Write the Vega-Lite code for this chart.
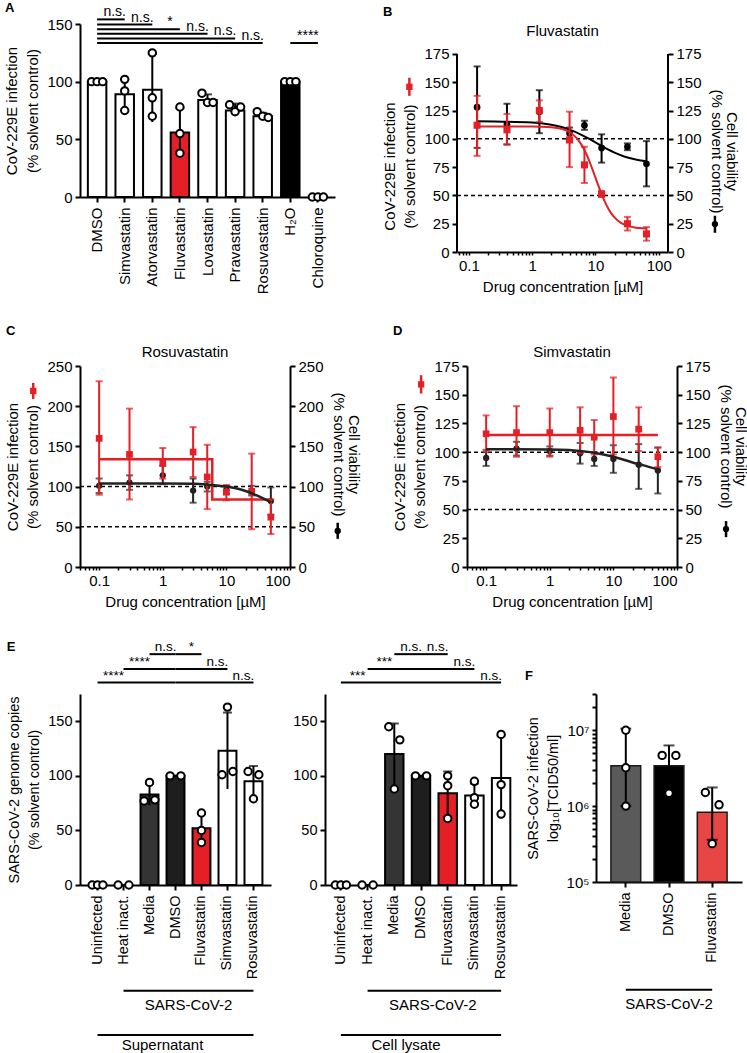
{
  "$schema": "https://vega.github.io/schema/vega-lite/v6.json",
  "padding": {"left": 4, "top": 2, "right": 0, "bottom": 0},
  "config": {
    "font": "Liberation Sans",
    "view": {"stroke": null},
    "axis": {"domainColor": "black", "domainWidth": 2, "tickColor": "black", "tickWidth": 2, "tickSize": 5, "labelColor": "black", "titleColor": "black", "labelFontSize": 15, "titleFontSize": 15, "titleFontWeight": "normal", "grid": false, "labelFont": "Liberation Sans", "titleFont": "Liberation Sans", "labelPadding": 3, "titlePadding": 6, "titleLineHeight": 20},
    "title": {"font": "Liberation Sans", "fontSize": 13, "fontWeight": "bold", "color": "black", "anchor": "start"}
  },
  "datasets": {
    "a_bars": [
      {"drug": "DMSO", "mean": 100, "lo": 100, "hi": 100},
      {"drug": "Simvastatin", "mean": 89, "lo": 75, "hi": 102},
      {"drug": "Atorvastatin", "mean": 93, "lo": 65, "hi": 124},
      {"drug": "Fluvastatin", "mean": 56, "lo": 37, "hi": 77},
      {"drug": "Lovastatin", "mean": 84, "lo": 79, "hi": 89},
      {"drug": "Pravastatin", "mean": 75, "lo": 70, "hi": 81},
      {"drug": "Rosuvastatin", "mean": 70, "lo": 68, "hi": 73},
      {"drug": "H₂O", "mean": 100, "lo": 100, "hi": 100},
      {"drug": "Chloroquine", "mean": 0, "lo": 0, "hi": 0}
    ],
    "a_pts": [
      {"drug": "DMSO", "rep": 1, "val": 100}, {"drug": "DMSO", "rep": 2, "val": 100}, {"drug": "DMSO", "rep": 3, "val": 100},
      {"drug": "Simvastatin", "rep": 2, "val": 102}, {"drug": "Simvastatin", "rep": 2, "val": 92}, {"drug": "Simvastatin", "rep": 2, "val": 75},
      {"drug": "Atorvastatin", "rep": 2, "val": 125}, {"drug": "Atorvastatin", "rep": 2, "val": 86}, {"drug": "Atorvastatin", "rep": 2, "val": 70},
      {"drug": "Fluvastatin", "rep": 2, "val": 78}, {"drug": "Fluvastatin", "rep": 2, "val": 55}, {"drug": "Fluvastatin", "rep": 2, "val": 38},
      {"drug": "Lovastatin", "rep": 1, "val": 90}, {"drug": "Lovastatin", "rep": 2, "val": 82}, {"drug": "Lovastatin", "rep": 3, "val": 82},
      {"drug": "Pravastatin", "rep": 1, "val": 80}, {"drug": "Pravastatin", "rep": 3, "val": 78}, {"drug": "Pravastatin", "rep": 2, "val": 74},
      {"drug": "Rosuvastatin", "rep": 1, "val": 74}, {"drug": "Rosuvastatin", "rep": 2, "val": 70}, {"drug": "Rosuvastatin", "rep": 3, "val": 69},
      {"drug": "H₂O", "rep": 1, "val": 100}, {"drug": "H₂O", "rep": 2, "val": 100}, {"drug": "H₂O", "rep": 3, "val": 100},
      {"drug": "Chloroquine", "rep": 1, "val": 0}, {"drug": "Chloroquine", "rep": 2, "val": 0}, {"drug": "Chloroquine", "rep": 3, "val": 0}
    ],
    "a_sig": [
      {"from": "DMSO", "to": "Simvastatin", "y": 154, "label": "n.s."},
      {"from": "DMSO", "to": "Atorvastatin", "y": 149.5, "label": "n.s."},
      {"from": "DMSO", "to": "Fluvastatin", "y": 145.5, "label": "*"},
      {"from": "DMSO", "to": "Lovastatin", "y": 141.5, "label": "n.s."},
      {"from": "DMSO", "to": "Pravastatin", "y": 137.5, "label": "n.s."},
      {"from": "DMSO", "to": "Rosuvastatin", "y": 133.5, "label": "n.s."},
      {"from": "H₂O", "to": "Chloroquine", "y": 133.5, "label": "****"}
    ],
    "refs_b": [{"ref": 100, "conc": 0.065, "conc2": 140}, {"ref": 50, "conc": 0.065, "conc2": 140}],
    "frame_b": [{"conc": 0.065, "y0": 0, "y1": 175}, {"conc": 140, "y0": 0, "y1": 175}],
    "refs_cd": [{"ref": 100, "conc": 0.05, "conc2": 100}, {"ref": 50, "conc": 0.05, "conc2": 100}],
    "b_title": [{"conc": 3.02, "y": 195, "label": "Fluvastatin"}],
    "c_title": [{"conc": 2.236, "y": 267, "label": "Rosuvastatin"}],
    "d_title": [{"conc": 2.236, "y": 187, "label": "Simvastatin"}],
    "sym_b_red": [{"conc": 0.0115, "y": 146, "lo": 138, "hi": 154}],
    "sym_b_blk": [{"conc": 772, "y": 24.7, "lo": 17, "hi": 32}],
    "sym_c_red": [{"conc": 0.0092, "y": 219, "lo": 209, "hi": 229}],
    "sym_c_blk": [{"conc": 562, "y": 44.8, "lo": 35, "hi": 55}],
    "sym_d_red": [{"conc": 0.0095, "y": 159, "lo": 151, "hi": 167}],
    "sym_d_blk": [{"conc": 590, "y": 33, "lo": 26, "hi": 40}],
    "b_inf": [
      {"conc": 0.135, "mean": 112, "lo": 85, "hi": 138},
      {"conc": 0.4, "mean": 108, "lo": 95, "hi": 122},
      {"conc": 1.3, "mean": 125, "lo": 115, "hi": 134},
      {"conc": 3.9, "mean": 99, "lo": 75, "hi": 124},
      {"conc": 6.7, "mean": 77, "lo": 61, "hi": 93},
      {"conc": 12.5, "mean": 51, "lo": 49, "hi": 54},
      {"conc": 32, "mean": 25, "lo": 19, "hi": 31},
      {"conc": 64, "mean": 16, "lo": 10, "hi": 22}
    ],
    "b_via": [
      {"conc": 0.135, "mean": 128, "lo": 92, "hi": 164},
      {"conc": 0.4, "mean": 113, "lo": 95, "hi": 131},
      {"conc": 1.3, "mean": 124, "lo": 105, "hi": 143},
      {"conc": 3.9, "mean": 105, "lo": 101, "hi": 110},
      {"conc": 6.7, "mean": 112, "lo": 108, "hi": 116},
      {"conc": 12.5, "mean": 92, "lo": 79, "hi": 104},
      {"conc": 32, "mean": 93, "lo": 90, "hi": 96},
      {"conc": 64, "mean": 78, "lo": 58, "hi": 98}
    ],
    "b_fit_inf": [
      {"conc": 0.135, "val": 111}, {"conc": 1, "val": 110.9}, {"conc": 2, "val": 110.3}, {"conc": 3, "val": 108.6},
      {"conc": 4, "val": 105.6}, {"conc": 5, "val": 100.9}, {"conc": 6, "val": 94.9}, {"conc": 7, "val": 87.9},
      {"conc": 8, "val": 80.4}, {"conc": 9, "val": 72.8}, {"conc": 10, "val": 65.7}, {"conc": 11, "val": 59.3},
      {"conc": 12.5, "val": 51.1}, {"conc": 14, "val": 44.7}, {"conc": 16, "val": 38.3}, {"conc": 18, "val": 33.7},
      {"conc": 20, "val": 30.6}, {"conc": 25, "val": 25.9}, {"conc": 30, "val": 23.7}, {"conc": 40, "val": 21.9}, {"conc": 64, "val": 20.8}
    ],
    "b_fit_via": [
      {"conc": 0.135, "val": 115.5}, {"conc": 1, "val": 114.4}, {"conc": 2, "val": 112.4}, {"conc": 3, "val": 110.2},
      {"conc": 4, "val": 107.9}, {"conc": 6, "val": 103.6}, {"conc": 8, "val": 99.9}, {"conc": 10, "val": 96.8},
      {"conc": 12.5, "val": 93.6}, {"conc": 16, "val": 90.4}, {"conc": 20, "val": 87.8}, {"conc": 30, "val": 84},
      {"conc": 45, "val": 81.6}, {"conc": 64, "val": 80.2}
    ],
    "c_inf": [
      {"conc": 0.1, "mean": 160, "lo": 90, "hi": 231},
      {"conc": 0.3, "mean": 140, "lo": 84, "hi": 197},
      {"conc": 1, "mean": 129, "lo": 110, "hi": 148},
      {"conc": 3, "mean": 143, "lo": 112, "hi": 174},
      {"conc": 5, "mean": 112, "lo": 72, "hi": 152},
      {"conc": 10, "mean": 93, "lo": 83, "hi": 102},
      {"conc": 25, "mean": 94, "lo": 47, "hi": 141},
      {"conc": 50, "mean": 62, "lo": 41, "hi": 84}
    ],
    "c_via": [
      {"conc": 0.1, "mean": 101, "lo": 92, "hi": 110},
      {"conc": 0.3, "mean": 105, "lo": 96, "hi": 114},
      {"conc": 1, "mean": 114, "lo": 103, "hi": 126},
      {"conc": 3, "mean": 95, "lo": 80, "hi": 110},
      {"conc": 5, "mean": 100, "lo": 94, "hi": 106},
      {"conc": 10, "mean": 96, "lo": 91, "hi": 101},
      {"conc": 25, "mean": 95, "lo": 89, "hi": 101},
      {"conc": 50, "mean": 82, "lo": 65, "hi": 99}
    ],
    "c_fit_inf": [
      {"i": 1, "conc": 0.1, "val": 134}, {"i": 2, "conc": 6, "val": 134}, {"i": 3, "conc": 6, "val": 84}, {"i": 4, "conc": 50, "val": 84}
    ],
    "c_fit_via": [
      {"conc": 0.1, "val": 104}, {"conc": 1, "val": 104}, {"conc": 3, "val": 103.5}, {"conc": 5, "val": 102.5},
      {"conc": 10, "val": 100}, {"conc": 20, "val": 94.5}, {"conc": 30, "val": 89}, {"conc": 40, "val": 84.5}, {"conc": 50, "val": 80.5}
    ],
    "d_inf": [
      {"conc": 0.1, "mean": 116, "lo": 100, "hi": 132},
      {"conc": 0.3, "mean": 117, "lo": 96, "hi": 140},
      {"conc": 1, "mean": 117, "lo": 96, "hi": 138},
      {"conc": 3, "mean": 119, "lo": 99, "hi": 139},
      {"conc": 5, "mean": 113, "lo": 98, "hi": 128},
      {"conc": 10, "mean": 131, "lo": 98, "hi": 165},
      {"conc": 25, "mean": 120, "lo": 101, "hi": 139},
      {"conc": 50, "mean": 96, "lo": 87, "hi": 104}
    ],
    "d_via": [
      {"conc": 0.1, "mean": 95, "lo": 88, "hi": 102},
      {"conc": 0.3, "mean": 103, "lo": 97, "hi": 109},
      {"conc": 1, "mean": 101, "lo": 97, "hi": 105},
      {"conc": 3, "mean": 99, "lo": 90, "hi": 108},
      {"conc": 5, "mean": 94, "lo": 88, "hi": 100},
      {"conc": 10, "mean": 94, "lo": 82, "hi": 106},
      {"conc": 25, "mean": 89, "lo": 68, "hi": 107},
      {"conc": 50, "mean": 84, "lo": 64, "hi": 104}
    ],
    "d_fit_inf": [{"conc": 0.1, "val": 115}, {"conc": 50, "val": 115}],
    "d_fit_via": [
      {"conc": 0.1, "val": 102.5}, {"conc": 1, "val": 102.3}, {"conc": 2, "val": 101.8}, {"conc": 3, "val": 101},
      {"conc": 5, "val": 99.5}, {"conc": 10, "val": 96}, {"conc": 20, "val": 91}, {"conc": 30, "val": 88.5}, {"conc": 50, "val": 85}
    ],
    "e1_bars": [
      {"cat": "Uninfected", "mean": 0, "lo": 0, "hi": 0},
      {"cat": "Heat inact.", "mean": 0, "lo": 0, "hi": 0},
      {"cat": "Media", "mean": 83, "lo": 73, "hi": 93},
      {"cat": "DMSO", "mean": 100, "lo": 100, "hi": 100},
      {"cat": "Fluvastatin", "mean": 52, "lo": 39, "hi": 65},
      {"cat": "Simvastatin", "mean": 123, "lo": 88, "hi": 158},
      {"cat": "Rosuvastatin", "mean": 95, "lo": 81, "hi": 109}
    ],
    "e1_pts": [
      {"cat": "Uninfected", "rep": 1, "val": 0}, {"cat": "Uninfected", "rep": 2, "val": 0}, {"cat": "Uninfected", "rep": 3, "val": 0},
      {"cat": "Heat inact.", "rep": 1, "val": 0}, {"cat": "Heat inact.", "rep": 3, "val": 0},
      {"cat": "Media", "rep": 2, "val": 94}, {"cat": "Media", "rep": 1, "val": 77}, {"cat": "Media", "rep": 3, "val": 78},
      {"cat": "DMSO", "rep": 1, "val": 100}, {"cat": "DMSO", "rep": 3, "val": 100},
      {"cat": "Fluvastatin", "rep": 2, "val": 66}, {"cat": "Fluvastatin", "rep": 2, "val": 50}, {"cat": "Fluvastatin", "rep": 2, "val": 39},
      {"cat": "Simvastatin", "rep": 2, "val": 163}, {"cat": "Simvastatin", "rep": 1, "val": 101}, {"cat": "Simvastatin", "rep": 3, "val": 104},
      {"cat": "Rosuvastatin", "rep": 1, "val": 104}, {"cat": "Rosuvastatin", "rep": 3, "val": 101}, {"cat": "Rosuvastatin", "rep": 2, "val": 79}
    ],
    "e1_sig": [
      {"from": "Uninfected", "to": "DMSO", "y": 185.5, "label": "****", "at": "Heat inact."},
      {"from": "Heat inact.", "to": "DMSO", "y": 198, "label": "****", "at": "Media"},
      {"from": "Media", "to": "DMSO", "y": 211.5, "label": "n.s.", "at": "DMSO"},
      {"from": "DMSO", "to": "Fluvastatin", "y": 211.5, "label": "*", "at": "Fluvastatin"},
      {"from": "DMSO", "to": "Simvastatin", "y": 198, "label": "n.s.", "at": "Simvastatin"},
      {"from": "DMSO", "to": "Rosuvastatin", "y": 185.5, "label": "n.s.", "at": "Rosuvastatin"}
    ],
    "e1_ann": [
      {"from": "Heat inact.", "to": "Rosuvastatin", "y": -97, "label": "SARS-CoV-2", "at": "Fluvastatin", "ty": -110},
      {"from": "Uninfected", "to": "Rosuvastatin", "y": -137.5, "label": "Supernatant", "at": "DMSO", "ty": -147}
    ],
    "e2_bars": [
      {"cat": "Uninfected", "mean": 0, "lo": 0, "hi": 0},
      {"cat": "Heat inact.", "mean": 0, "lo": 0, "hi": 0},
      {"cat": "Media", "mean": 120, "lo": 92, "hi": 148},
      {"cat": "DMSO", "mean": 100, "lo": 100, "hi": 100},
      {"cat": "Fluvastatin", "mean": 84, "lo": 64, "hi": 104},
      {"cat": "Simvastatin", "mean": 82, "lo": 72, "hi": 93},
      {"cat": "Rosuvastatin", "mean": 98, "lo": 61, "hi": 137}
    ],
    "e2_pts": [
      {"cat": "Uninfected", "rep": 1, "val": 0}, {"cat": "Uninfected", "rep": 2, "val": 0}, {"cat": "Uninfected", "rep": 3, "val": 0},
      {"cat": "Heat inact.", "rep": 1, "val": 0}, {"cat": "Heat inact.", "rep": 3, "val": 0},
      {"cat": "Media", "rep": 1, "val": 145}, {"cat": "Media", "rep": 3, "val": 133}, {"cat": "Media", "rep": 2, "val": 88},
      {"cat": "DMSO", "rep": 1, "val": 100}, {"cat": "DMSO", "rep": 3, "val": 100},
      {"cat": "Fluvastatin", "rep": 2, "val": 100}, {"cat": "Fluvastatin", "rep": 2, "val": 91}, {"cat": "Fluvastatin", "rep": 2, "val": 61},
      {"cat": "Simvastatin", "rep": 2, "val": 95}, {"cat": "Simvastatin", "rep": 2, "val": 80}, {"cat": "Simvastatin", "rep": 2, "val": 74},
      {"cat": "Rosuvastatin", "rep": 2, "val": 138}, {"cat": "Rosuvastatin", "rep": 2, "val": 92}, {"cat": "Rosuvastatin", "rep": 2, "val": 65}
    ],
    "e2_sig": [
      {"from": "Uninfected", "to": "DMSO", "y": 185.5, "label": "***", "at": "Heat inact."},
      {"from": "Heat inact.", "to": "DMSO", "y": 198, "label": "***", "at": "Media"},
      {"from": "Media", "to": "DMSO", "y": 211.5, "label": "n.s.", "at": "DMSO"},
      {"from": "DMSO", "to": "Fluvastatin", "y": 211.5, "label": "n.s.", "at": "Fluvastatin"},
      {"from": "DMSO", "to": "Simvastatin", "y": 198, "label": "n.s.", "at": "Simvastatin"},
      {"from": "DMSO", "to": "Rosuvastatin", "y": 185.5, "label": "n.s.", "at": "Rosuvastatin"}
    ],
    "e2_ann": [
      {"from": "Heat inact.", "to": "Rosuvastatin", "y": -97, "label": "SARS-CoV-2", "at": "Fluvastatin", "ty": -110},
      {"from": "Uninfected", "to": "Rosuvastatin", "y": -137.5, "label": "Cell lysate", "at": "DMSO", "ty": -147}
    ],
    "f_bars": [
      {"cat": "Media", "mean": 3400000, "lo": 1000000, "hi": 10500000},
      {"cat": "DMSO", "mean": 3400000, "lo": 1830000, "hi": 6300000},
      {"cat": "Fluvastatin", "mean": 830000, "lo": 360000, "hi": 1760000}
    ],
    "f_pts": [
      {"cat": "Media", "rep": 2, "val": 10000000}, {"cat": "Media", "rep": 2, "val": 3200000}, {"cat": "Media", "rep": 2, "val": 1000000},
      {"cat": "DMSO", "rep": 1, "val": 4660000}, {"cat": "DMSO", "rep": 3, "val": 4660000}, {"cat": "DMSO", "rep": 2, "val": 1480000},
      {"cat": "Fluvastatin", "rep": 1, "val": 1510000}, {"cat": "Fluvastatin", "rep": 3, "val": 1040000}, {"cat": "Fluvastatin", "rep": 2, "val": 320000}
    ],
    "f_ann": [{"from": "Media", "to": "Fluvastatin", "y": 3800, "label": "SARS-CoV-2", "at": "DMSO", "ty": 2500}]
  },
  "spacing": 31,
  "resolve": {"scale": {"fill": "independent"}},
  "vconcat": [
    {
      "spacing": 47,
      "resolve": {"scale": {"fill": "independent"}},
      "hconcat": [
        {
          "title": {"text": "A", "offset": -10},
          "width": 255, "height": 173,
          "layer": [
            {
              "data": {"name": "a_bars"},
              "mark": {"type": "bar", "stroke": "black", "strokeWidth": 2},
              "encoding": {
                "x": {"field": "drug", "type": "nominal", "sort": null, "scale": {"domain": ["DMSO", "Simvastatin", "Atorvastatin", "Fluvastatin", "Lovastatin", "Pravastatin", "Rosuvastatin", "H₂O", "Chloroquine"], "paddingInner": 0.33, "paddingOuter": 0.285}, "axis": {"title": null, "labelAngle": 270, "labelPadding": 5}},
                "y": {"field": "mean", "type": "quantitative", "scale": {"domain": [0, 150], "nice": false}, "axis": {"values": [0, 25, 50, 75, 100, 125, 150], "title": ["CoV-229E infection", "(% solvent control)"], "titleLineHeight": 21}},
                "fill": {"field": "drug", "type": "nominal", "scale": {"domain": ["DMSO", "Simvastatin", "Atorvastatin", "Fluvastatin", "Lovastatin", "Pravastatin", "Rosuvastatin", "H₂O", "Chloroquine"], "range": ["white", "white", "white", "#e41f26", "white", "white", "white", "black", "white"]}, "legend": null}
              }
            },
            {"data": {"name": "a_bars"}, "mark": {"type": "rule", "strokeWidth": 2, "color": "black"}, "encoding": {"x": {"field": "drug", "type": "nominal"}, "y": {"field": "lo", "type": "quantitative"}, "y2": {"field": "hi"}}},
            {"data": {"name": "a_bars"}, "mark": {"type": "tick", "orient": "horizontal", "size": 9, "thickness": 2, "color": "black"}, "encoding": {"x": {"field": "drug", "type": "nominal"}, "y": {"field": "hi", "type": "quantitative"}}},
            {"data": {"name": "a_pts"}, "transform": [{"filter": "datum.rep == 1"}], "mark": {"type": "circle", "size": 55, "fill": "white", "stroke": "black", "strokeWidth": 2, "opacity": 1}, "encoding": {"x": {"field": "drug", "type": "nominal", "bandPosition": 0.2}, "y": {"field": "val", "type": "quantitative"}}},
            {"data": {"name": "a_pts"}, "transform": [{"filter": "datum.rep == 2"}], "mark": {"type": "circle", "size": 55, "fill": "white", "stroke": "black", "strokeWidth": 2, "opacity": 1}, "encoding": {"x": {"field": "drug", "type": "nominal", "bandPosition": 0.5}, "y": {"field": "val", "type": "quantitative"}}},
            {"data": {"name": "a_pts"}, "transform": [{"filter": "datum.rep == 3"}], "mark": {"type": "circle", "size": 55, "fill": "white", "stroke": "black", "strokeWidth": 2, "opacity": 1}, "encoding": {"x": {"field": "drug", "type": "nominal", "bandPosition": 0.8}, "y": {"field": "val", "type": "quantitative"}}},
            {"data": {"name": "a_sig"}, "mark": {"type": "rule", "strokeWidth": 2, "color": "black"}, "encoding": {"x": {"field": "from", "type": "nominal"}, "x2": {"field": "to"}, "y": {"field": "y", "type": "quantitative"}}},
            {"data": {"name": "a_sig"}, "mark": {"type": "text", "fontSize": 14, "dx": -10, "dy": -3, "baseline": "alphabetic", "align": "center"}, "encoding": {"x": {"field": "to", "type": "nominal"}, "y": {"field": "y", "type": "quantitative"}, "text": {"field": "label"}}}
          ]
        },
        {
          "title": {"text": "B", "offset": 5},
          "width": 211, "height": 228,
          "layer": [
            {"data": {"name": "refs_b"}, "mark": {"type": "rule", "strokeDash": [4, 3], "strokeWidth": 1.5, "color": "black"}, "encoding": {"x": {"field": "conc", "type": "quantitative", "scale": {"type": "log", "domain": [0.065, 140], "nice": false}, "axis": {"title": "Drug concentration [µM]", "values": [0.07, 0.08, 0.09, 0.1, 0.2, 0.3, 0.4, 0.5, 0.6, 0.7, 0.8, 0.9, 1, 2, 3, 4, 5, 6, 7, 8, 9, 10, 20, 30, 40, 50, 60, 70, 80, 90, 100], "labelExpr": "indexof([0.1, 1, 10, 100], datum.value) >= 0 ? datum.label : ''", "tickSize": 3, "tickWidth": 1.5}}, "x2": {"field": "conc2"}, "y": {"field": "ref", "type": "quantitative", "scale": {"domain": [0, 201.5], "nice": false}, "axis": {"orient": "left", "values": [0, 25, 50, 75, 100, 125, 150, 175], "domain": false, "titleY": 142, "title": ["CoV-229E infection", "(% solvent control)"]}}}},
            {"data": {"name": "frame_b"}, "mark": {"type": "rule", "strokeWidth": 2, "color": "black"}, "encoding": {"x": {"field": "conc", "type": "quantitative"}, "y": {"field": "y0", "type": "quantitative", "scale": {"domain": [0, 201.5], "nice": false}, "axis": null}, "y2": {"field": "y1"}}},
            {"data": {"name": "b_via"}, "mark": {"type": "rule", "strokeWidth": 2, "color": "black"}, "encoding": {"x": {"field": "conc", "type": "quantitative"}, "y": {"field": "lo", "type": "quantitative", "scale": {"domain": [0, 201.5], "nice": false}, "axis": null}, "y2": {"field": "hi"}}},
            {"data": {"name": "b_via"}, "mark": {"type": "tick", "orient": "horizontal", "size": 7, "thickness": 2, "color": "black"}, "encoding": {"x": {"field": "conc", "type": "quantitative"}, "y": {"field": "hi", "type": "quantitative", "scale": {"domain": [0, 201.5], "nice": false}, "axis": null}}},
            {"data": {"name": "b_via"}, "mark": {"type": "tick", "orient": "horizontal", "size": 7, "thickness": 2, "color": "black"}, "encoding": {"x": {"field": "conc", "type": "quantitative"}, "y": {"field": "lo", "type": "quantitative", "scale": {"domain": [0, 201.5], "nice": false}, "axis": null}}},
            {"data": {"name": "b_fit_via"}, "mark": {"type": "line", "interpolate": "monotone", "strokeWidth": 2, "color": "black"}, "encoding": {"x": {"field": "conc", "type": "quantitative"}, "y": {"field": "val", "type": "quantitative", "scale": {"domain": [0, 201.5], "nice": false}, "axis": null}}},
            {"data": {"name": "b_via"}, "mark": {"type": "circle", "size": 45, "color": "black", "opacity": 1}, "encoding": {"x": {"field": "conc", "type": "quantitative"}, "y": {"field": "mean", "type": "quantitative", "scale": {"domain": [0, 201.5], "nice": false}, "axis": {"orient": "right", "values": [0, 25, 50, 75, 100, 125, 150, 175], "domain": false, "titleY": 127, "titlePadding": 7, "titleLineHeight": 15.5, "title": ["Cell viability", "(% solvent control)"]}}}},
            {"data": {"name": "b_inf"}, "mark": {"type": "rule", "strokeWidth": 2, "color": "#e41f26"}, "encoding": {"x": {"field": "conc", "type": "quantitative"}, "y": {"field": "lo", "type": "quantitative", "scale": {"domain": [0, 201.5], "nice": false}, "axis": null}, "y2": {"field": "hi"}}},
            {"data": {"name": "b_inf"}, "mark": {"type": "tick", "orient": "horizontal", "size": 7, "thickness": 2, "color": "#e41f26"}, "encoding": {"x": {"field": "conc", "type": "quantitative"}, "y": {"field": "hi", "type": "quantitative", "scale": {"domain": [0, 201.5], "nice": false}, "axis": null}}},
            {"data": {"name": "b_inf"}, "mark": {"type": "tick", "orient": "horizontal", "size": 7, "thickness": 2, "color": "#e41f26"}, "encoding": {"x": {"field": "conc", "type": "quantitative"}, "y": {"field": "lo", "type": "quantitative", "scale": {"domain": [0, 201.5], "nice": false}, "axis": null}}},
            {"data": {"name": "b_fit_inf"}, "mark": {"type": "line", "interpolate": "monotone", "strokeWidth": 2, "color": "#e41f26"}, "encoding": {"x": {"field": "conc", "type": "quantitative"}, "y": {"field": "val", "type": "quantitative", "scale": {"domain": [0, 201.5], "nice": false}, "axis": null}}},
            {"data": {"name": "b_inf"}, "mark": {"type": "square", "size": 50, "color": "#e41f26", "opacity": 1}, "encoding": {"x": {"field": "conc", "type": "quantitative"}, "y": {"field": "mean", "type": "quantitative", "scale": {"domain": [0, 201.5], "nice": false}, "axis": null}}},
            {"data": {"name": "b_title"}, "mark": {"type": "text", "fontSize": 15, "baseline": "middle"}, "encoding": {"x": {"field": "conc", "type": "quantitative"}, "y": {"field": "y", "type": "quantitative", "scale": {"domain": [0, 201.5], "nice": false}, "axis": null}, "text": {"field": "label"}}},
            {"data": {"name": "sym_b_red"}, "mark": {"type": "rule", "strokeWidth": 2.5, "color": "#e41f26"}, "encoding": {"x": {"field": "conc", "type": "quantitative"}, "y": {"field": "lo", "type": "quantitative", "scale": {"domain": [0, 201.5], "nice": false}, "axis": null}, "y2": {"field": "hi"}}},
            {"data": {"name": "sym_b_red"}, "mark": {"type": "square", "size": 40, "color": "#e41f26", "opacity": 1}, "encoding": {"x": {"field": "conc", "type": "quantitative"}, "y": {"field": "y", "type": "quantitative", "scale": {"domain": [0, 201.5], "nice": false}, "axis": null}}},
            {"data": {"name": "sym_b_blk"}, "mark": {"type": "rule", "strokeWidth": 2.5, "color": "black"}, "encoding": {"x": {"field": "conc", "type": "quantitative"}, "y": {"field": "lo", "type": "quantitative", "scale": {"domain": [0, 201.5], "nice": false}, "axis": null}, "y2": {"field": "hi"}}},
            {"data": {"name": "sym_b_blk"}, "mark": {"type": "circle", "size": 40, "color": "black", "opacity": 1}, "encoding": {"x": {"field": "conc", "type": "quantitative"}, "y": {"field": "y", "type": "quantitative", "scale": {"domain": [0, 201.5], "nice": false}, "axis": null}}}
          ],
          "resolve": {"scale": {"y": "independent"}}
        }
      ]
    },
    {
      "spacing": 31,
      "resolve": {"scale": {"fill": "independent"}},
      "hconcat": [
        {
          "title": {"text": "C", "offset": 7},
          "width": 210, "height": 201,
          "layer": [
            {"data": {"name": "refs_cd"}, "mark": {"type": "rule", "strokeDash": [4, 3], "strokeWidth": 1.5, "color": "black"}, "encoding": {"x": {"field": "conc", "type": "quantitative", "scale": {"type": "log", "domain": [0.05, 100], "nice": false}, "axis": {"title": "Drug concentration [µM]", "values": [0.05, 0.06, 0.07, 0.08, 0.09, 0.1, 0.2, 0.3, 0.4, 0.5, 0.6, 0.7, 0.8, 0.9, 1, 2, 3, 4, 5, 6, 7, 8, 9, 10, 20, 30, 40, 50, 60, 70, 80, 90, 100], "labelExpr": "indexof([0.1, 1, 10, 100], datum.value) >= 0 ? datum.label : ''", "tickSize": 3, "tickWidth": 1.5}}, "x2": {"field": "conc2"}, "y": {"field": "ref", "type": "quantitative", "scale": {"domain": [0, 250], "nice": false}, "axis": {"orient": "left", "values": [0, 50, 100, 150, 200, 250], "title": ["CoV-229E infection", "(% solvent control)"]}}}},
            {"data": {"name": "c_via"}, "mark": {"type": "rule", "strokeWidth": 2, "color": "#222222"}, "encoding": {"x": {"field": "conc", "type": "quantitative"}, "y": {"field": "lo", "type": "quantitative", "scale": {"domain": [0, 250], "nice": false}, "axis": null}, "y2": {"field": "hi"}}},
            {"data": {"name": "c_via"}, "mark": {"type": "tick", "orient": "horizontal", "size": 7, "thickness": 2, "color": "#222222"}, "encoding": {"x": {"field": "conc", "type": "quantitative"}, "y": {"field": "hi", "type": "quantitative", "scale": {"domain": [0, 250], "nice": false}, "axis": null}}},
            {"data": {"name": "c_via"}, "mark": {"type": "tick", "orient": "horizontal", "size": 7, "thickness": 2, "color": "#222222"}, "encoding": {"x": {"field": "conc", "type": "quantitative"}, "y": {"field": "lo", "type": "quantitative", "scale": {"domain": [0, 250], "nice": false}, "axis": null}}},
            {"data": {"name": "c_via"}, "mark": {"type": "circle", "size": 40, "color": "#222222", "opacity": 1}, "encoding": {"x": {"field": "conc", "type": "quantitative"}, "y": {"field": "mean", "type": "quantitative", "scale": {"domain": [0, 250], "nice": false}, "axis": {"orient": "right", "values": [0, 50, 100, 150, 200, 250], "titleY": 88, "titlePadding": 7, "titleLineHeight": 15.5, "title": ["Cell viability", "(% solvent control)"]}}}},
            {"data": {"name": "c_inf"}, "mark": {"type": "rule", "strokeWidth": 2, "color": "#e41f26"}, "encoding": {"x": {"field": "conc", "type": "quantitative"}, "y": {"field": "lo", "type": "quantitative", "scale": {"domain": [0, 250], "nice": false}, "axis": null}, "y2": {"field": "hi"}}},
            {"data": {"name": "c_inf"}, "mark": {"type": "tick", "orient": "horizontal", "size": 7, "thickness": 2, "color": "#e41f26"}, "encoding": {"x": {"field": "conc", "type": "quantitative"}, "y": {"field": "hi", "type": "quantitative", "scale": {"domain": [0, 250], "nice": false}, "axis": null}}},
            {"data": {"name": "c_inf"}, "mark": {"type": "tick", "orient": "horizontal", "size": 7, "thickness": 2, "color": "#e41f26"}, "encoding": {"x": {"field": "conc", "type": "quantitative"}, "y": {"field": "lo", "type": "quantitative", "scale": {"domain": [0, 250], "nice": false}, "axis": null}}},
            {"data": {"name": "c_fit_inf"}, "mark": {"type": "line", "strokeWidth": 2.5, "color": "#e41f26"}, "encoding": {"x": {"field": "conc", "type": "quantitative"}, "y": {"field": "val", "type": "quantitative", "scale": {"domain": [0, 250], "nice": false}, "axis": null}, "order": {"field": "i"}}},
            {"data": {"name": "c_inf"}, "mark": {"type": "square", "size": 45, "color": "#e41f26", "opacity": 1}, "encoding": {"x": {"field": "conc", "type": "quantitative"}, "y": {"field": "mean", "type": "quantitative", "scale": {"domain": [0, 250], "nice": false}, "axis": null}}},
            {"data": {"name": "c_fit_via"}, "mark": {"type": "line", "interpolate": "monotone", "strokeWidth": 2.5, "color": "#222222"}, "encoding": {"x": {"field": "conc", "type": "quantitative"}, "y": {"field": "val", "type": "quantitative", "scale": {"domain": [0, 250], "nice": false}, "axis": null}}},
            {"data": {"name": "c_title"}, "mark": {"type": "text", "fontSize": 15, "baseline": "middle"}, "encoding": {"x": {"field": "conc", "type": "quantitative"}, "y": {"field": "y", "type": "quantitative", "scale": {"domain": [0, 250], "nice": false}, "axis": null}, "text": {"field": "label"}}},
            {"data": {"name": "sym_c_red"}, "mark": {"type": "rule", "strokeWidth": 2.5, "color": "#e41f26"}, "encoding": {"x": {"field": "conc", "type": "quantitative"}, "y": {"field": "lo", "type": "quantitative", "scale": {"domain": [0, 250], "nice": false}, "axis": null}, "y2": {"field": "hi"}}},
            {"data": {"name": "sym_c_red"}, "mark": {"type": "square", "size": 40, "color": "#e41f26", "opacity": 1}, "encoding": {"x": {"field": "conc", "type": "quantitative"}, "y": {"field": "y", "type": "quantitative", "scale": {"domain": [0, 250], "nice": false}, "axis": null}}},
            {"data": {"name": "sym_c_blk"}, "mark": {"type": "rule", "strokeWidth": 2.5, "color": "black"}, "encoding": {"x": {"field": "conc", "type": "quantitative"}, "y": {"field": "lo", "type": "quantitative", "scale": {"domain": [0, 250], "nice": false}, "axis": null}, "y2": {"field": "hi"}}},
            {"data": {"name": "sym_c_blk"}, "mark": {"type": "circle", "size": 40, "color": "black", "opacity": 1}, "encoding": {"x": {"field": "conc", "type": "quantitative"}, "y": {"field": "y", "type": "quantitative", "scale": {"domain": [0, 250], "nice": false}, "axis": null}}}
          ],
          "resolve": {"scale": {"y": "independent"}}
        },
        {
          "title": {"text": "D", "offset": 7},
          "width": 210, "height": 201,
          "layer": [
            {"data": {"name": "refs_cd"}, "mark": {"type": "rule", "strokeDash": [4, 3], "strokeWidth": 1.5, "color": "black"}, "encoding": {"x": {"field": "conc", "type": "quantitative", "scale": {"type": "log", "domain": [0.05, 100], "nice": false}, "axis": {"title": "Drug concentration [µM]", "values": [0.05, 0.06, 0.07, 0.08, 0.09, 0.1, 0.2, 0.3, 0.4, 0.5, 0.6, 0.7, 0.8, 0.9, 1, 2, 3, 4, 5, 6, 7, 8, 9, 10, 20, 30, 40, 50, 60, 70, 80, 90, 100], "labelExpr": "indexof([0.1, 1, 10, 100], datum.value) >= 0 ? datum.label : ''", "tickSize": 3, "tickWidth": 1.5}}, "x2": {"field": "conc2"}, "y": {"field": "ref", "type": "quantitative", "scale": {"domain": [0, 175], "nice": false}, "axis": {"orient": "left", "values": [0, 25, 50, 75, 100, 125, 150, 175], "title": ["CoV-229E infection", "(% solvent control)"]}}}},
            {"data": {"name": "d_via"}, "mark": {"type": "rule", "strokeWidth": 2, "color": "#222222"}, "encoding": {"x": {"field": "conc", "type": "quantitative"}, "y": {"field": "lo", "type": "quantitative", "scale": {"domain": [0, 175], "nice": false}, "axis": null}, "y2": {"field": "hi"}}},
            {"data": {"name": "d_via"}, "mark": {"type": "tick", "orient": "horizontal", "size": 7, "thickness": 2, "color": "#222222"}, "encoding": {"x": {"field": "conc", "type": "quantitative"}, "y": {"field": "hi", "type": "quantitative", "scale": {"domain": [0, 175], "nice": false}, "axis": null}}},
            {"data": {"name": "d_via"}, "mark": {"type": "tick", "orient": "horizontal", "size": 7, "thickness": 2, "color": "#222222"}, "encoding": {"x": {"field": "conc", "type": "quantitative"}, "y": {"field": "lo", "type": "quantitative", "scale": {"domain": [0, 175], "nice": false}, "axis": null}}},
            {"data": {"name": "d_via"}, "mark": {"type": "circle", "size": 40, "color": "#222222", "opacity": 1}, "encoding": {"x": {"field": "conc", "type": "quantitative"}, "y": {"field": "mean", "type": "quantitative", "scale": {"domain": [0, 175], "nice": false}, "axis": {"orient": "right", "values": [0, 25, 50, 75, 100, 125, 150, 175], "titleY": 80, "titlePadding": 7, "titleLineHeight": 15.5, "title": ["Cell viability", "(% solvent control)"]}}}},
            {"data": {"name": "d_inf"}, "mark": {"type": "rule", "strokeWidth": 2, "color": "#e41f26"}, "encoding": {"x": {"field": "conc", "type": "quantitative"}, "y": {"field": "lo", "type": "quantitative", "scale": {"domain": [0, 175], "nice": false}, "axis": null}, "y2": {"field": "hi"}}},
            {"data": {"name": "d_inf"}, "mark": {"type": "tick", "orient": "horizontal", "size": 7, "thickness": 2, "color": "#e41f26"}, "encoding": {"x": {"field": "conc", "type": "quantitative"}, "y": {"field": "hi", "type": "quantitative", "scale": {"domain": [0, 175], "nice": false}, "axis": null}}},
            {"data": {"name": "d_inf"}, "mark": {"type": "tick", "orient": "horizontal", "size": 7, "thickness": 2, "color": "#e41f26"}, "encoding": {"x": {"field": "conc", "type": "quantitative"}, "y": {"field": "lo", "type": "quantitative", "scale": {"domain": [0, 175], "nice": false}, "axis": null}}},
            {"data": {"name": "d_fit_inf"}, "mark": {"type": "line", "strokeWidth": 2.5, "color": "#e41f26"}, "encoding": {"x": {"field": "conc", "type": "quantitative"}, "y": {"field": "val", "type": "quantitative", "scale": {"domain": [0, 175], "nice": false}, "axis": null}}},
            {"data": {"name": "d_inf"}, "mark": {"type": "square", "size": 45, "color": "#e41f26", "opacity": 1}, "encoding": {"x": {"field": "conc", "type": "quantitative"}, "y": {"field": "mean", "type": "quantitative", "scale": {"domain": [0, 175], "nice": false}, "axis": null}}},
            {"data": {"name": "d_fit_via"}, "mark": {"type": "line", "interpolate": "monotone", "strokeWidth": 2.5, "color": "#222222"}, "encoding": {"x": {"field": "conc", "type": "quantitative"}, "y": {"field": "val", "type": "quantitative", "scale": {"domain": [0, 175], "nice": false}, "axis": null}}},
            {"data": {"name": "d_title"}, "mark": {"type": "text", "fontSize": 15, "baseline": "middle"}, "encoding": {"x": {"field": "conc", "type": "quantitative"}, "y": {"field": "y", "type": "quantitative", "scale": {"domain": [0, 175], "nice": false}, "axis": null}, "text": {"field": "label"}}},
            {"data": {"name": "sym_d_red"}, "mark": {"type": "rule", "strokeWidth": 2.5, "color": "#e41f26"}, "encoding": {"x": {"field": "conc", "type": "quantitative"}, "y": {"field": "lo", "type": "quantitative", "scale": {"domain": [0, 175], "nice": false}, "axis": null}, "y2": {"field": "hi"}}},
            {"data": {"name": "sym_d_red"}, "mark": {"type": "square", "size": 40, "color": "#e41f26", "opacity": 1}, "encoding": {"x": {"field": "conc", "type": "quantitative"}, "y": {"field": "y", "type": "quantitative", "scale": {"domain": [0, 175], "nice": false}, "axis": null}}},
            {"data": {"name": "sym_d_blk"}, "mark": {"type": "rule", "strokeWidth": 2.5, "color": "black"}, "encoding": {"x": {"field": "conc", "type": "quantitative"}, "y": {"field": "lo", "type": "quantitative", "scale": {"domain": [0, 175], "nice": false}, "axis": null}, "y2": {"field": "hi"}}},
            {"data": {"name": "sym_d_blk"}, "mark": {"type": "circle", "size": 40, "color": "black", "opacity": 1}, "encoding": {"x": {"field": "conc", "type": "quantitative"}, "y": {"field": "y", "type": "quantitative", "scale": {"domain": [0, 175], "nice": false}, "axis": null}}}
          ],
          "resolve": {"scale": {"y": "independent"}}
        }
      ]
    },
    {
      "spacing": 8,
      "resolve": {"scale": {"fill": "independent"}},
      "hconcat": [
        {
          "title": {"text": "E", "offset": -14},
          "width": 191, "height": 191,
          "layer": [
            {
              "data": {"name": "e1_bars"},
              "mark": {"type": "bar", "stroke": "black", "strokeWidth": 2},
              "encoding": {
                "x": {"field": "cat", "type": "nominal", "sort": null, "scale": {"domain": ["Uninfected", "Heat inact.", "Media", "DMSO", "Fluvastatin", "Simvastatin", "Rosuvastatin"], "paddingInner": 0.31, "paddingOuter": 0.33}, "axis": {"title": null, "labelAngle": 270, "labelPadding": 5, "labelFontSize": 14.5}},
                "y": {"field": "mean", "type": "quantitative", "scale": {"domain": [0, 175], "nice": false}, "axis": {"values": [0, 25, 50, 75, 100, 125, 150, 175], "labelFontSize": 14.5, "titleFontSize": 14.5, "title": ["SARS-CoV-2 genome copies", "(% solvent control)"]}},
                "fill": {"field": "cat", "type": "nominal", "scale": {"domain": ["Uninfected", "Heat inact.", "Media", "DMSO", "Fluvastatin", "Simvastatin", "Rosuvastatin"], "range": ["white", "white", "#343434", "#1e1e1e", "#e41f26", "white", "white"]}, "legend": null}
              }
            },
            {"data": {"name": "e1_bars"}, "mark": {"type": "rule", "strokeWidth": 2, "color": "black"}, "encoding": {"x": {"field": "cat", "type": "nominal"}, "y": {"field": "lo", "type": "quantitative"}, "y2": {"field": "hi"}}},
            {"data": {"name": "e1_bars"}, "mark": {"type": "tick", "orient": "horizontal", "size": 9, "thickness": 2, "color": "black"}, "encoding": {"x": {"field": "cat", "type": "nominal"}, "y": {"field": "hi", "type": "quantitative"}}},
            {"data": {"name": "e1_pts"}, "transform": [{"filter": "datum.rep == 1"}], "mark": {"type": "circle", "size": 55, "fill": "white", "stroke": "black", "strokeWidth": 2, "opacity": 1}, "encoding": {"x": {"field": "cat", "type": "nominal", "bandPosition": 0.2}, "y": {"field": "val", "type": "quantitative"}}},
            {"data": {"name": "e1_pts"}, "transform": [{"filter": "datum.rep == 2"}], "mark": {"type": "circle", "size": 55, "fill": "white", "stroke": "black", "strokeWidth": 2, "opacity": 1}, "encoding": {"x": {"field": "cat", "type": "nominal", "bandPosition": 0.5}, "y": {"field": "val", "type": "quantitative"}}},
            {"data": {"name": "e1_pts"}, "transform": [{"filter": "datum.rep == 3"}], "mark": {"type": "circle", "size": 55, "fill": "white", "stroke": "black", "strokeWidth": 2, "opacity": 1}, "encoding": {"x": {"field": "cat", "type": "nominal", "bandPosition": 0.8}, "y": {"field": "val", "type": "quantitative"}}},
            {"data": {"name": "e1_sig"}, "mark": {"type": "rule", "strokeWidth": 2, "color": "black"}, "encoding": {"x": {"field": "from", "type": "nominal"}, "x2": {"field": "to"}, "y": {"field": "y", "type": "quantitative"}}},
            {"data": {"name": "e1_sig"}, "mark": {"type": "text", "fontSize": 13.5, "dx": -10, "dy": -3, "baseline": "alphabetic"}, "encoding": {"x": {"field": "at", "type": "nominal"}, "y": {"field": "y", "type": "quantitative"}, "text": {"field": "label"}}},
            {"data": {"name": "e1_ann"}, "mark": {"type": "rule", "strokeWidth": 2, "color": "black"}, "encoding": {"x": {"field": "from", "type": "nominal"}, "x2": {"field": "to"}, "y": {"field": "y", "type": "quantitative"}}},
            {"data": {"name": "e1_ann"}, "mark": {"type": "text", "fontSize": 15, "baseline": "middle", "dx": -13}, "encoding": {"x": {"field": "at", "type": "nominal"}, "y": {"field": "ty", "type": "quantitative"}, "text": {"field": "label"}}}
          ]
        },
        {
          "width": 192, "height": 191,
          "layer": [
            {
              "data": {"name": "e2_bars"},
              "mark": {"type": "bar", "stroke": "black", "strokeWidth": 2},
              "encoding": {
                "x": {"field": "cat", "type": "nominal", "sort": null, "scale": {"domain": ["Uninfected", "Heat inact.", "Media", "DMSO", "Fluvastatin", "Simvastatin", "Rosuvastatin"], "paddingInner": 0.31, "paddingOuter": 0.25}, "axis": {"title": null, "labelAngle": 270, "labelPadding": 5, "labelFontSize": 14.5}},
                "y": {"field": "mean", "type": "quantitative", "scale": {"domain": [0, 175], "nice": false}, "axis": {"values": [0, 25, 50, 75, 100, 125, 150, 175], "labelFontSize": 14.5, "title": " ", "titleFontSize": 13, "titlePadding": 0}},
                "fill": {"field": "cat", "type": "nominal", "scale": {"domain": ["Uninfected", "Heat inact.", "Media", "DMSO", "Fluvastatin", "Simvastatin", "Rosuvastatin"], "range": ["white", "white", "#343434", "#1e1e1e", "#e41f26", "white", "white"]}, "legend": null}
              }
            },
            {"data": {"name": "e2_bars"}, "mark": {"type": "rule", "strokeWidth": 2, "color": "black"}, "encoding": {"x": {"field": "cat", "type": "nominal"}, "y": {"field": "lo", "type": "quantitative"}, "y2": {"field": "hi"}}},
            {"data": {"name": "e2_bars"}, "mark": {"type": "tick", "orient": "horizontal", "size": 9, "thickness": 2, "color": "black"}, "encoding": {"x": {"field": "cat", "type": "nominal"}, "y": {"field": "hi", "type": "quantitative"}}},
            {"data": {"name": "e2_pts"}, "transform": [{"filter": "datum.rep == 1"}], "mark": {"type": "circle", "size": 55, "fill": "white", "stroke": "black", "strokeWidth": 2, "opacity": 1}, "encoding": {"x": {"field": "cat", "type": "nominal", "bandPosition": 0.2}, "y": {"field": "val", "type": "quantitative"}}},
            {"data": {"name": "e2_pts"}, "transform": [{"filter": "datum.rep == 2"}], "mark": {"type": "circle", "size": 55, "fill": "white", "stroke": "black", "strokeWidth": 2, "opacity": 1}, "encoding": {"x": {"field": "cat", "type": "nominal", "bandPosition": 0.5}, "y": {"field": "val", "type": "quantitative"}}},
            {"data": {"name": "e2_pts"}, "transform": [{"filter": "datum.rep == 3"}], "mark": {"type": "circle", "size": 55, "fill": "white", "stroke": "black", "strokeWidth": 2, "opacity": 1}, "encoding": {"x": {"field": "cat", "type": "nominal", "bandPosition": 0.8}, "y": {"field": "val", "type": "quantitative"}}},
            {"data": {"name": "e2_sig"}, "mark": {"type": "rule", "strokeWidth": 2, "color": "black"}, "encoding": {"x": {"field": "from", "type": "nominal"}, "x2": {"field": "to"}, "y": {"field": "y", "type": "quantitative"}}},
            {"data": {"name": "e2_sig"}, "mark": {"type": "text", "fontSize": 13.5, "dx": -10, "dy": -3, "baseline": "alphabetic"}, "encoding": {"x": {"field": "at", "type": "nominal"}, "y": {"field": "y", "type": "quantitative"}, "text": {"field": "label"}}},
            {"data": {"name": "e2_ann"}, "mark": {"type": "rule", "strokeWidth": 2, "color": "black"}, "encoding": {"x": {"field": "from", "type": "nominal"}, "x2": {"field": "to"}, "y": {"field": "y", "type": "quantitative"}}},
            {"data": {"name": "e2_ann"}, "mark": {"type": "text", "fontSize": 15, "baseline": "middle", "dx": -15}, "encoding": {"x": {"field": "at", "type": "nominal"}, "y": {"field": "ty", "type": "quantitative"}, "text": {"field": "label"}}}
          ]
        },
        {
          "title": {"text": "F", "offset": 10},
          "width": 146, "height": 188,
          "layer": [
            {
              "data": {"name": "f_bars"},
              "mark": {"type": "bar", "stroke": "#1a1a1a", "strokeWidth": 1.5},
              "encoding": {
                "x": {"field": "cat", "type": "nominal", "sort": null, "scale": {"domain": ["Media", "DMSO", "Fluvastatin"], "paddingInner": 0.31, "paddingOuter": 0.345}, "axis": {"title": null, "labelAngle": 270, "labelPadding": 5, "labelFontSize": 14.5}},
                "y": {"field": "mean", "type": "quantitative", "scale": {"type": "log", "domain": [100000, 30000000], "nice": false}, "axis": {"values": [100000, 200000, 300000, 400000, 500000, 600000, 700000, 800000, 900000, 1000000, 2000000, 3000000, 4000000, 5000000, 6000000, 7000000, 8000000, 9000000, 10000000, 20000000, 30000000], "labelExpr": "datum.value == 100000 ? '10⁵' : datum.value == 1000000 ? '10⁶' : datum.value == 10000000 ? '10⁷' : ''", "tickSize": 4, "labelFontSize": 15, "titleFontSize": 14.5, "title": ["SARS-CoV-2 infection", "log₁₀[TCID50/ml]"]}},
                "y2": {"datum": 100000},
                "fill": {"field": "cat", "type": "nominal", "scale": {"domain": ["Media", "DMSO", "Fluvastatin"], "range": ["#5a5a5a", "#000000", "#e84545"]}, "legend": null}
              }
            },
            {"data": {"name": "f_bars"}, "mark": {"type": "rule", "strokeWidth": 2, "color": "black"}, "encoding": {"x": {"field": "cat", "type": "nominal"}, "y": {"field": "lo", "type": "quantitative"}, "y2": {"field": "hi"}}},
            {"data": {"name": "f_bars"}, "mark": {"type": "tick", "orient": "horizontal", "size": 11, "thickness": 2, "color": "black"}, "encoding": {"x": {"field": "cat", "type": "nominal"}, "y": {"field": "hi", "type": "quantitative"}}},
            {"data": {"name": "f_bars"}, "mark": {"type": "tick", "orient": "horizontal", "size": 11, "thickness": 2, "color": "black"}, "encoding": {"x": {"field": "cat", "type": "nominal"}, "y": {"field": "lo", "type": "quantitative"}}},
            {"data": {"name": "f_pts"}, "transform": [{"filter": "datum.rep == 1"}], "mark": {"type": "circle", "size": 55, "fill": "white", "stroke": "black", "strokeWidth": 2, "opacity": 1}, "encoding": {"x": {"field": "cat", "type": "nominal", "bandPosition": 0.27}, "y": {"field": "val", "type": "quantitative"}}},
            {"data": {"name": "f_pts"}, "transform": [{"filter": "datum.rep == 2"}], "mark": {"type": "circle", "size": 55, "fill": "white", "stroke": "black", "strokeWidth": 2, "opacity": 1}, "encoding": {"x": {"field": "cat", "type": "nominal", "bandPosition": 0.5}, "y": {"field": "val", "type": "quantitative"}}},
            {"data": {"name": "f_pts"}, "transform": [{"filter": "datum.rep == 3"}], "mark": {"type": "circle", "size": 55, "fill": "white", "stroke": "black", "strokeWidth": 2, "opacity": 1}, "encoding": {"x": {"field": "cat", "type": "nominal", "bandPosition": 0.73}, "y": {"field": "val", "type": "quantitative"}}},
            {"data": {"name": "f_ann"}, "mark": {"type": "rule", "strokeWidth": 2, "color": "black"}, "encoding": {"x": {"field": "from", "type": "nominal"}, "x2": {"field": "to"}, "y": {"field": "y", "type": "quantitative"}}},
            {"data": {"name": "f_ann"}, "mark": {"type": "text", "fontSize": 15, "baseline": "middle"}, "encoding": {"x": {"field": "at", "type": "nominal"}, "y": {"field": "ty", "type": "quantitative"}, "text": {"field": "label"}}}
          ]
        }
      ]
    }
  ]
}
